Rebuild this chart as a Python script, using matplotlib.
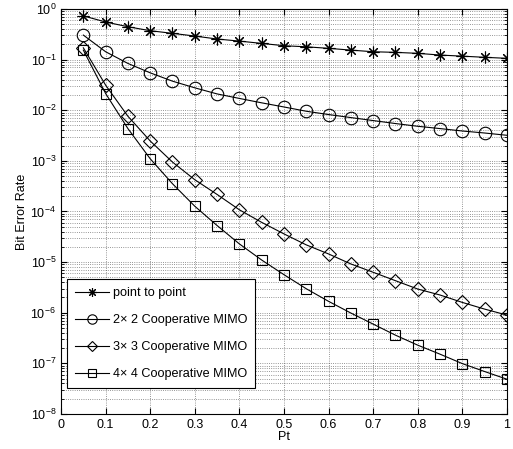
import numpy as np
import matplotlib
matplotlib.use("Agg")
import matplotlib.pyplot as plt
from matplotlib.ticker import FixedLocator, NullFormatter, LogFormatterSciNotation

plt.rcParams['font.family'] = ['Liberation Sans', 'DejaVu Sans']
plt.rcParams['mathtext.fontset'] = 'custom'
plt.rcParams['mathtext.rm'] = 'Liberation Sans'

pt = [0.05, 0.10, 0.15, 0.20, 0.25, 0.30, 0.35, 0.40, 0.45, 0.50,
      0.55, 0.60, 0.65, 0.70, 0.75, 0.80, 0.85, 0.90, 0.95, 1.00]

ber_p2p = [0.73, 0.553, 0.446, 0.372, 0.330, 0.292, 0.255, 0.232, 0.209, 0.188,
           0.179, 0.167, 0.154, 0.143, 0.139, 0.133, 0.123, 0.117, 0.111, 0.106]

ber_2x2 = [0.305, 0.143, 0.084, 0.0548, 0.0375, 0.0277, 0.0210, 0.0171, 0.0140, 0.0116,
           0.00955, 0.00822, 0.00716, 0.00625, 0.00546, 0.00482, 0.00434, 0.00389, 0.00355, 0.0032]

ber_3x3 = [0.171, 0.0313, 0.0076, 0.00247, 9.46e-4, 4.24e-4, 2.17e-4, 1.08e-4, 6.1e-5, 3.61e-5,
           2.19e-5, 1.45e-5, 9.2e-6, 6.3e-6, 4.3e-6, 2.94e-6, 2.24e-6, 1.6e-6, 1.18e-6, 9.0e-7]

ber_4x4 = [0.154, 0.0214, 0.00434, 0.0011, 3.53e-4, 1.27e-4, 5.28e-5, 2.29e-5, 1.10e-5, 5.65e-6,
           2.98e-6, 1.68e-6, 9.87e-7, 5.97e-7, 3.61e-7, 2.29e-7, 1.52e-7, 9.9e-8, 6.9e-8, 4.87e-8]

labels = ['point to point', '2\u00d7 2 Cooperative MIMO',
          '3\u00d7 3 Cooperative MIMO', '4\u00d7 4 Cooperative MIMO']

fig = plt.figure(figsize=(5.13, 4.49), dpi=100)
ax = fig.add_axes([0.119, 0.078, 0.869, 0.902])

lw = 0.8
ax.semilogy(pt, ber_p2p, 'k-', marker=(8, 2, 0), ms=8.5, mew=0.8, lw=lw, label=labels[0])
ax.semilogy(pt, ber_2x2, 'k-', marker='o', ms=9, mfc='none', mew=0.8, lw=lw, label=labels[1])
ax.semilogy(pt, ber_3x3, 'k-', marker='D', ms=7, mfc='none', mew=0.8, lw=lw, label=labels[2])
ax.semilogy(pt, ber_4x4, 'k-', marker='s', ms=7.5, mfc='none', mew=0.8, lw=lw, label=labels[3])

ax.set_xlim(0, 1)
ax.set_ylim(1e-8, 1)
ax.set_xticks(np.arange(0, 1.01, 0.1))
ax.set_xticklabels(['0', '0.1', '0.2', '0.3', '0.4', '0.5', '0.6', '0.7', '0.8', '0.9', '1'])
ax.yaxis.set_major_locator(FixedLocator([10.0 ** k for k in range(-8, 1)]))
ax.yaxis.set_major_formatter(LogFormatterSciNotation())
minor = [m * 10.0 ** k for k in range(-8, 0) for m in range(2, 10)]
ax.yaxis.set_minor_locator(FixedLocator(minor))
ax.yaxis.set_minor_formatter(NullFormatter())

ax.grid(True, which='major', axis='both', ls=':', color='k', lw=0.6, alpha=0.55)
ax.grid(True, which='minor', axis='y', ls=':', color='k', lw=0.6, alpha=0.55)

ax.tick_params(which='both', direction='in', top=True, right=True, labelsize=9)
ax.tick_params(which='major', length=4)
ax.tick_params(which='minor', length=2)
for s in ax.spines.values():
    s.set_linewidth(0.8)

ax.set_xlabel('Pt', fontsize=9, labelpad=0)
ax.set_ylabel('Bit Error Rate', fontsize=9, labelpad=2)

leg = ax.legend(loc='lower left', bbox_to_anchor=(0.0135, 0.064), fontsize=9.1, fancybox=False,
                edgecolor='k', framealpha=1, borderpad=0.6, labelspacing=1.2,
                handlelength=2.7, handletextpad=0.3, borderaxespad=0, markerscale=0.75)
leg.get_frame().set_linewidth(0.8)

fig.savefig('out.png', dpi=100)
